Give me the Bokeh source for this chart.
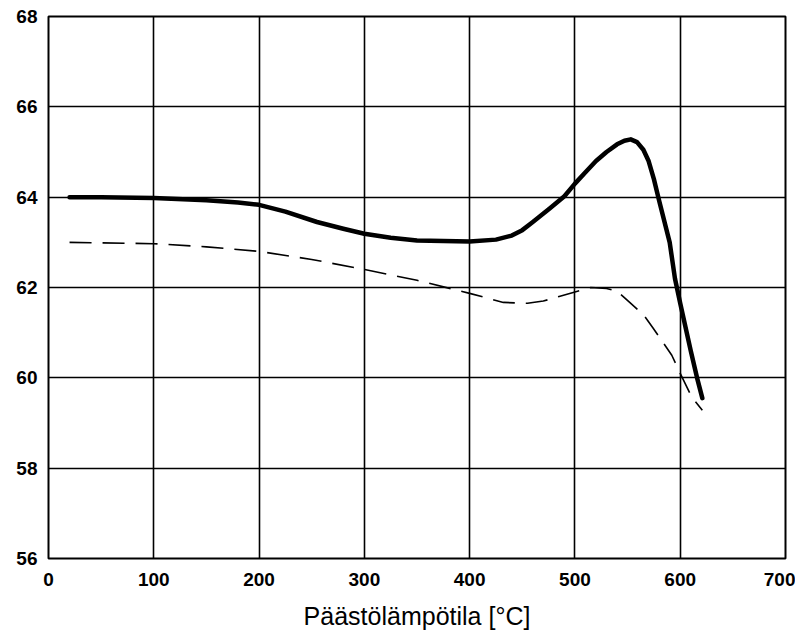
from bokeh.plotting import figure
from bokeh.models import FixedTicker
from bokeh.embed import file_html
from bokeh.resources import INLINE

# Solid curve
x_solid = [20, 50, 100, 150, 180, 200, 225, 255, 280, 300, 325, 350, 400, 425, 440, 450, 460, 476, 490, 500, 510, 520, 530, 540, 547, 553, 559, 565, 570, 575, 580, 590, 595, 600, 610, 616, 621]
y_solid = [64.0, 64.0, 63.98, 63.93, 63.88, 63.83, 63.68, 63.45, 63.3, 63.19, 63.1, 63.04, 63.02, 63.06, 63.15, 63.27, 63.45, 63.75, 64.02, 64.3, 64.55, 64.8, 65.0, 65.17, 65.25, 65.28, 65.22, 65.05, 64.8, 64.4, 63.92, 63.0, 62.2, 61.65, 60.6, 60.0, 59.55]

# Dashed curve
x_dash = [20, 100, 150, 200, 250, 300, 350, 400, 432, 455, 470, 485, 500, 515, 530, 540, 552, 565, 574, 592, 600, 611, 621]
y_dash = [63.0, 62.97, 62.9, 62.8, 62.62, 62.4, 62.16, 61.87, 61.67, 61.65, 61.7, 61.8, 61.9, 62.0, 61.98, 61.92, 61.67, 61.4, 61.11, 60.5, 60.1, 59.57, 59.28]

x_ticks = [0, 100, 200, 300, 400, 500, 600, 700]
y_ticks = [56, 58, 60, 62, 64, 66, 68]
x_title = "Päästölämpötila [°C]"

p = figure(width=795, height=634, x_range=(0, 700), y_range=(56, 68),
           output_backend="svg", toolbar_location=None,
           min_border_left=48, min_border_right=10, min_border_top=16, min_border_bottom=76)

p.outline_line_color = "black"
p.outline_line_width = 2
p.background_fill_color = "white"
p.border_fill_color = "white"

for ax in (p.xaxis, p.yaxis):
    ax.axis_line_color = None
    ax.major_tick_line_color = None
    ax.minor_tick_line_color = None
    ax.major_tick_in = 0
    ax.major_tick_out = 0
    ax.major_label_text_font = "Liberation Sans"
    ax.major_label_text_font_style = "bold"
    ax.major_label_text_font_size = "19px"
    ax.major_label_text_color = "black"

p.xaxis.ticker = FixedTicker(ticks=x_ticks)
p.yaxis.ticker = FixedTicker(ticks=y_ticks)
p.xaxis.major_label_standoff = 14
p.yaxis.major_label_standoff = 11
p.xaxis.axis_label = x_title
p.xaxis.axis_label_text_font = "Liberation Sans"
p.xaxis.axis_label_text_font_style = "normal"
p.xaxis.axis_label_text_font_size = "25px"
p.xaxis.axis_label_text_color = "black"
p.xaxis.axis_label_standoff = 13

p.xgrid.ticker = FixedTicker(ticks=x_ticks)
p.ygrid.ticker = FixedTicker(ticks=y_ticks)
for g in (p.xgrid, p.ygrid):
    g.grid_line_color = "black"
    g.grid_line_width = 1.6
    g.grid_line_alpha = 1.0

p.line(x_dash, y_dash, line_color="black", line_width=1.6, line_dash="22 11")
p.line(x_solid, y_solid, line_color="black", line_width=4.5, line_join="round", line_cap="round")

open("out.html", "w").write(file_html(p, INLINE))
